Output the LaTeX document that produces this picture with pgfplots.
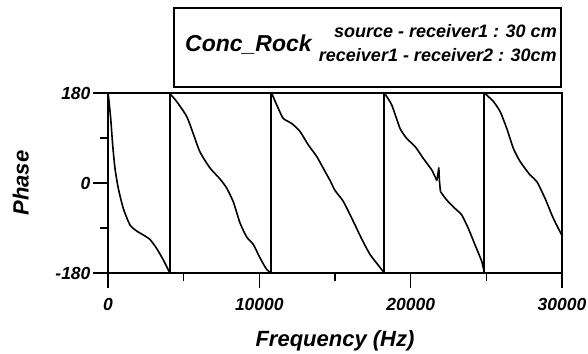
\documentclass[border=0pt]{standalone}
\usepackage{pgfplots}
\pgfplotsset{compat=1.18}
\usepackage{fontspec}
\setmainfont{Liberation Sans}
\newcommand{\bi}[1]{\fontsize{#1}{#1}\selectfont\bfseries\itshape}
\begin{document}
\begin{tikzpicture}[x=1pt,y=1pt]
\path[use as bounding box] (-108,-80) rectangle (480,273);
\begin{axis}[
  scale only axis, width=454pt, height=180pt,
  at={(0,0)}, anchor=south west,
  xmin=0, xmax=30000, ymin=-180, ymax=180,
  scaled x ticks=false,
  axis line style={line width=1.3pt},
  xtick={0,10000,20000,30000}, xticklabels={0,10000,20000,30000},
  minor xtick={5000,15000,25000},
  ytick={-180,0,180}, yticklabels={-180,0,180},
  minor ytick={-90,90},
  xtick pos=bottom, ytick pos=left,
  tick align=outside,
  major tick length=15pt, minor tick length=8pt,
  every tick/.style={line width=1.3pt, black},
  xticklabel style={font=\bi{17.5}, anchor=north, yshift=-7pt},
  yticklabel style={font=\bi{17.5}, anchor=east, xshift=1pt},
  xlabel={Frequency (Hz)}, ylabel={Phase},
  xlabel style={font=\bi{22}, at={(axis description cs:0.5,-0.375)}, anchor=center},
  ylabel style={font=\bi{22}, at={(axis description cs:-0.192,0.5)}, anchor=center},
  clip=true,
]
\addplot[black, line width=1.6pt, smooth, tension=0.4] coordinates {
(0,180) (20,177) (178,129) (310,76) (463,29) (683,-11) (1013,-51) (1454,-84) (1895,-96) (2335,-104) (2776,-113) (3217,-131) (3657,-154) (3988,-174) (4090,-180)};
\addplot[black, line width=1.8pt] coordinates {(4090,-180) (4090,180)};
\addplot[black, line width=1.6pt, smooth, tension=0.4] coordinates {
(4090,180) (4141,177) (4538,163) (5200,133) (5640,98) (6080,62) (6741,30) (7402,8) (7840,-10) (8282,-38) (8724,-80) (9167,-108) (9604,-123) (10046,-150) (10489,-173) (10796,-180)};
\addplot[black, line width=1.8pt] coordinates {(10796,-180) (10796,180)};
\addplot[black, line width=1.6pt, smooth, tension=0.4] coordinates {
(10796,180) (10850,177) (11256,149) (11587,129) (12141,119) (12690,103) (13239,76) (13794,53) (14342,23) (14673,5) (15003,-15) (15552,-37) (16213,-77) (16768,-112) (17317,-143) (17978,-169) (18260,-180)};
\addplot[black, line width=1.8pt] coordinates {(18260,-180) (18260,180)};
\addplot[black, line width=1.6pt, smooth, tension=0.3] coordinates {
(18260,180) (18330,177) (18751,156) (19300,109) (19742,89) (20291,73) (20839,49) (21394,26) (21725,5)};
\addplot[black, line width=1.6pt] coordinates {
(21725,5) (21800,18) (21860,31) (21900,5) (21966,-17)};
\addplot[black, line width=1.6pt, smooth, tension=0.3] coordinates {
(21966,-17) (22380,-34) (22935,-51) (23377,-64) (23813,-91) (24256,-124) (24699,-157) (24870,-180)};
\addplot[black, line width=1.8pt] coordinates {(24870,-180) (24870,180)};
\addplot[black, line width=1.6pt, smooth, tension=0.4] coordinates {
(24870,180) (24983,177) (25466,163) (25909,143) (26350,109) (26790,69) (27231,43) (27892,16) (28333,3) (28883,-31) (29432,-71) (30000,-105)};
\end{axis}
\draw[line width=1.3pt] (66,265) rectangle (453,186);
\node[anchor=base west, inner sep=0pt, font=\bi{23}] at (77,221) {Conc\_Rock};
\node[anchor=base east, inner sep=0pt, font=\bi{18}] at (449,235) {source - receiver1 : 30 cm};
\node[anchor=base east, inner sep=0pt, font=\bi{18}] at (449,211) {receiver1 - receiver2 : 30cm};
\end{tikzpicture}
\end{document}
